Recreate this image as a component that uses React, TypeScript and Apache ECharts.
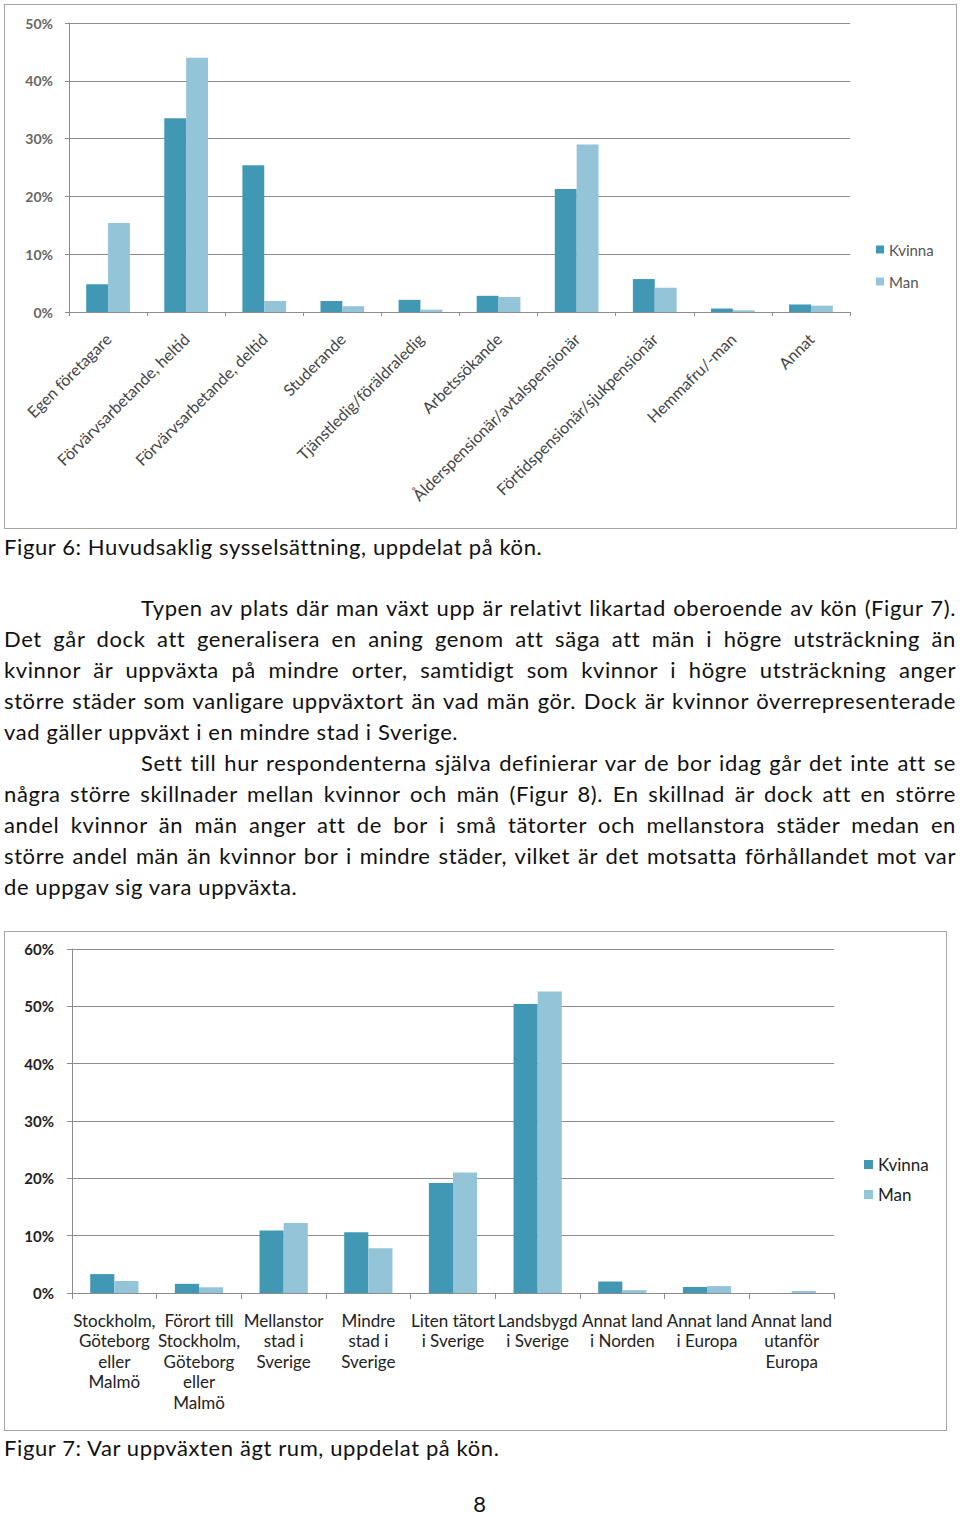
import React, { useEffect, useRef } from "react";
import * as echarts from "echarts";

// ---------- Data: Figur 6 ----------
const categories1 = [
  "Egen företagare",
  "Förvärvsarbetande, heltid",
  "Förvärvsarbetande, deltid",
  "Studerande",
  "Tjänstledig/föräldraledig",
  "Arbetssökande",
  "Ålderspensionär/avtalspensionär",
  "Förtidspensionär/sjukpensionär",
  "Hemmafru/-man",
  "Annat",
];
const kvinna1 = [4.8, 33.5, 25.4, 1.9, 2.1, 2.8, 21.3, 5.7, 0.6, 1.3];
const man1 = [15.4, 44.0, 1.9, 1.0, 0.4, 2.6, 29.0, 4.2, 0.3, 1.1];
const yTicks1 = { min: 0, max: 50, interval: 10 };

// ---------- Data: Figur 7 ----------
const categories2 = [
  "Stockholm,\nGöteborg\neller\nMalmö",
  "Förort till\nStockholm,\nGöteborg\neller\nMalmö",
  "Mellanstor\nstad i\nSverige",
  "Mindre\nstad i\nSverige",
  "Liten tätort\ni Sverige",
  "Landsbygd\ni Sverige",
  "Annat land\ni Norden",
  "Annat land\ni Europa",
  "Annat land\nutanför\nEuropa",
];
const kvinna2 = [3.3, 1.6, 10.9, 10.6, 19.2, 50.4, 2.0, 1.05, 0];
const man2 = [2.1, 1.0, 12.2, 7.8, 21.0, 52.6, 0.5, 1.2, 0.35];
const yTicks2 = { min: 0, max: 60, interval: 10 };

const seriesNames = ["Kvinna", "Man"];
const colors = ["#4198b5", "#93c4d7"];

// ---------- Text ----------
const caption6 = "Figur 6: Huvudsaklig sysselsättning, uppdelat på kön.";
const caption7 = "Figur 7: Var uppväxten ägt rum, uppdelat på kön.";
const pageNumber = "8";
const bodyLines: { text: string; indent: boolean; justify: boolean }[] = [
  { text: "Typen av plats där man växt upp är relativt likartad oberoende av kön (Figur 7).", indent: true, justify: true },
  { text: "Det går dock att generalisera en aning genom att säga att män i högre utsträckning än", indent: false, justify: true },
  { text: "kvinnor är uppväxta på mindre orter, samtidigt som kvinnor i högre utsträckning anger", indent: false, justify: true },
  { text: "större städer som vanligare uppväxtort än vad män gör. Dock är kvinnor överrepresenterade", indent: false, justify: true },
  { text: "vad gäller uppväxt i en mindre stad i Sverige.", indent: false, justify: false },
  { text: "Sett till hur respondenterna själva definierar var de bor idag går det inte att se", indent: true, justify: true },
  { text: "några större skillnader mellan kvinnor och män (Figur 8). En skillnad är dock att en större", indent: false, justify: true },
  { text: "andel kvinnor än män anger att de bor i små tätorter och mellanstora städer medan en", indent: false, justify: true },
  { text: "större andel män än kvinnor bor i mindre städer, vilket är det motsatta förhållandet mot var", indent: false, justify: true },
  { text: "de uppgav sig vara uppväxta.", indent: false, justify: false },
];

const FONT = "Lato, 'Open Sans', sans-serif";

function option1(): any {
  return {
    animation: false,
    textStyle: { fontFamily: FONT },
    grid: { left: 65, top: 19, width: 781, height: 289 },
    legend: {
      orient: "vertical",
      left: 872,
      top: 238,
      padding: 0,
      itemWidth: 8,
      itemHeight: 8,
      itemGap: 17,
      icon: "rect",
      data: seriesNames,
      textStyle: { fontSize: 15, color: "#555", fontFamily: FONT },
    },
    xAxis: {
      type: "category",
      data: categories1,
      axisLine: { lineStyle: { color: "#8c8c8c" } },
      axisTick: { show: true, length: 4, lineStyle: { color: "#8c8c8c" } },
      axisLabel: { interval: 0, rotate: 45, fontSize: 16, color: "#444", margin: 24 },
    },
    yAxis: {
      type: "value",
      ...yTicks1,
      axisLine: { show: true, lineStyle: { color: "#8c8c8c" } },
      axisTick: { show: true, length: 4, lineStyle: { color: "#8c8c8c" } },
      axisLabel: { formatter: "{value}%", fontSize: 14, fontWeight: "bold", color: "#666", margin: 16 },
      splitLine: { lineStyle: { color: "#8c8c8c" } },
    },
    series: seriesNames.map((name, i) => ({
      type: "bar",
      name,
      data: i === 0 ? kvinna1 : man1,
      barGap: "0%",
      barCategoryGap: "44%",
      itemStyle: { color: colors[i] },
    })),
  };
}

function option2(): any {
  return {
    animation: false,
    textStyle: { fontFamily: FONT },
    grid: { left: 68, top: 18, width: 762, height: 344 },
    legend: {
      orient: "vertical",
      left: 860,
      top: 225,
      padding: 0,
      itemWidth: 9,
      itemHeight: 9,
      itemGap: 13,
      icon: "rect",
      data: seriesNames,
      textStyle: { fontSize: 17, color: "#222", fontFamily: FONT },
    },
    xAxis: {
      type: "category",
      data: categories2,
      axisLine: { lineStyle: { color: "#8c8c8c" } },
      axisTick: { show: true, length: 6, lineStyle: { color: "#8c8c8c" } },
      axisLabel: { interval: 0, fontSize: 17, lineHeight: 20.5, color: "#222", margin: 17 },
    },
    yAxis: {
      type: "value",
      ...yTicks2,
      axisLine: { show: true, lineStyle: { color: "#8c8c8c" } },
      axisTick: { show: true, length: 5, lineStyle: { color: "#8c8c8c" } },
      axisLabel: { formatter: "{value}%", fontSize: 15, fontWeight: "bold", color: "#222", margin: 18 },
      splitLine: { lineStyle: { color: "#8c8c8c" } },
    },
    series: seriesNames.map((name, i) => ({
      type: "bar",
      name,
      data: i === 0 ? kvinna2 : man2,
      barGap: "0%",
      barCategoryGap: "43%",
      itemStyle: { color: colors[i] },
    })),
  };
}

function Chart({ style, option }: { style: React.CSSProperties; option: () => any }) {
  const ref = useRef<HTMLDivElement>(null);
  useEffect(() => {
    if (!ref.current) return;
    const chart = echarts.init(ref.current, undefined, { renderer: "svg" });
    chart.setOption(option());
    return () => chart.dispose();
  }, []);
  return <div ref={ref} style={style} />;
}

export default function App() {
  const textStyle: React.CSSProperties = {
    position: "absolute",
    fontFamily: FONT,
    fontSize: 22,
    letterSpacing: "0.6px",
    lineHeight: "31px",
    color: "#111",
    whiteSpace: "nowrap",
  };
  return (
    <div style={{ position: "absolute", left: 0, top: 0, width: 960, height: 1517, background: "#fff", overflow: "hidden" }}>
      <div style={{ position: "absolute", left: 4, top: 4, width: 953, height: 525, border: "1px solid #a6a6a6", boxSizing: "border-box" }} />
      <Chart style={{ position: "absolute", left: 4, top: 4, width: 953, height: 525 }} option={option1} />
      <div style={{ ...textStyle, left: 4, top: 546 - 15.5 }}>{caption6}</div>
      {bodyLines.map((l, i) => {
        const left = l.indent ? 141 : 4;
        const s: React.CSSProperties = {
          ...textStyle,
          left,
          top: 607 - 15.5 + i * 31,
          width: 956 - left,
        };
        if (l.justify) {
          s.whiteSpace = "normal";
          s.textAlign = "justify";
          (s as any).textAlignLast = "justify";
        }
        return (
          <div key={i} style={s}>
            {l.text}
          </div>
        );
      })}
      <div style={{ position: "absolute", left: 4, top: 931, width: 943, height: 500, border: "1px solid #a6a6a6", boxSizing: "border-box" }} />
      <Chart style={{ position: "absolute", left: 4, top: 931, width: 943, height: 500 }} option={option2} />
      <div style={{ ...textStyle, left: 4, top: 1447 - 15.5 }}>{caption7}</div>
      <div style={{ ...textStyle, left: 466, width: 28, textAlign: "center", top: 1494, lineHeight: "19px" }}>{pageNumber}</div>
    </div>
  );
}
